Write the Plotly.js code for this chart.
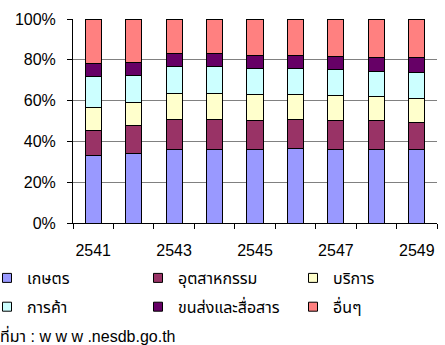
<!DOCTYPE html>
<html>
<head>
<meta charset="utf-8">
<script src="https://cdn.plot.ly/plotly-3.0.1.min.js"></script>
<style>
  html, body { margin: 0; padding: 0; background: #fff; }
  #chart { width: 445px; height: 345px; }
</style>
</head>
<body>
<div id="chart"></div>
<script>
// GDP structure by sector, share of total (%)
const years = ['2541', '2542', '2543', '2544', '2545', '2546', '2547', '2548', '2549'];
const agriculture    = [33.3, 34.1, 35.9, 35.9, 35.9, 36.7, 35.9, 35.9, 35.9];
const industry       = [11.9, 13.5, 15.0, 15.0, 14.2, 14.2, 14.2, 14.2, 13.4];
const services       = [11.2, 11.7, 12.4, 12.4, 13.0, 12.2, 12.5, 11.7, 11.8];
const trade          = [15.3, 13.2, 13.3, 13.3, 12.8, 12.8, 12.5, 12.7, 12.6];
const transport      = [6.3, 6.4, 6.3, 6.3, 6.2, 6.2, 6.7, 6.8, 7.6];
const others         = [22.0, 21.1, 17.1, 17.1, 17.9, 17.9, 18.2, 18.7, 18.7];

const seriesNames  = ['เกษตร', 'อุตสาหกรรม', 'บริการ', 'การค้า', 'ขนส่งและสื่อสาร', 'อื่นๆ'];
const seriesValues = [agriculture, industry, services, trade, transport, others];
const seriesColors = ['#9999FF', '#993366', '#FFFFCC', '#CCFFFF', '#660066', '#FF8080'];
const yTicks = [0, 20, 40, 60, 80, 100];
const yTickText = ['0%', '20%', '40%', '60%', '80%', '100%'];
const sourceNote = 'ที่มา : w w w .nesdb.go.th';

const FONT = 'Arial, "Liberation Sans", "Noto Sans Thai", Tahoma, sans-serif';
const legendIds = ['legend', 'legend2', 'legend3'];

const traces = [];
seriesValues.forEach((vals, i) => {
  traces.push({
    type: 'bar',
    x: years,
    y: vals,
    name: seriesNames[i],
    marker: { color: seriesColors[i], line: { color: '#000', width: 1 } },
    showlegend: false,
    hoverinfo: 'x+y+name'
  });
});
// Legend keys: small outlined squares laid out in three columns
seriesNames.forEach((n, i) => {
  traces.push({
    type: 'scatter',
    mode: 'markers',
    x: [null],
    y: [null],
    name: n,
    legend: legendIds[i % 3],
    legendgroup: 'g' + i,
    marker: { symbol: 'square', size: 9, color: seriesColors[i], line: { color: '#000', width: 1 } },
    showlegend: true,
    hoverinfo: 'skip'
  });
});

const plotW = 445 - 73 - 8;
const plotH = 345 - 19 - 122;

function legendColumn(leftPx) {
  return {
    orientation: 'v',
    traceorder: 'grouped',
    tracegroupgap: 5,
    x: (leftPx - 73) / plotW,
    xanchor: 'left',
    y: -38 / plotH,
    yanchor: 'top',
    font: { family: FONT, size: 16, color: '#000' },
    itemclick: false,
    itemdoubleclick: false,
    bgcolor: 'rgba(0,0,0,0)'
  };
}

const layout = {
  width: 445,
  height: 345,
  margin: { l: 73, r: 8, t: 19, b: 122, autoexpand: false },
  paper_bgcolor: '#fff',
  plot_bgcolor: '#fff',
  barmode: 'stack',
  bargap: 0.6,
  font: { family: FONT, size: 16, color: '#000' },
  xaxis: {
    type: 'category',
    range: [-0.5, 8.5],
    tickson: 'boundaries',
    ticks: 'outside',
    ticklen: 5,
    tickcolor: '#000',
    ticklabelstep: 2,
    tickangle: 0,
    ticklabelstandoff: 13,
    automargin: false,
    showline: true,
    linecolor: '#000',
    linewidth: 1,
    showgrid: false,
    zeroline: false,
    fixedrange: true
  },
  yaxis: {
    range: [0, 100],
    tickvals: yTicks,
    ticktext: yTickText,
    ticks: 'outside',
    ticklen: 5,
    tickcolor: '#000',
    ticklabelstandoff: 8,
    automargin: false,
    showline: true,
    linecolor: '#000',
    linewidth: 1,
    showgrid: true,
    gridcolor: '#808080',
    gridwidth: 1,
    zeroline: false,
    fixedrange: true
  },
  legend: legendColumn(-13),
  legend2: legendColumn(138),
  legend3: legendColumn(293),
  annotations: [{
    text: sourceNote,
    xref: 'paper', yref: 'paper',
    x: -75 / plotW, y: -112 / plotH,
    xanchor: 'left', yanchor: 'middle',
    showarrow: false,
    font: { family: FONT, size: 16, color: '#000' }
  }]
};

Plotly.newPlot('chart', traces, layout, { displayModeBar: false, staticPlot: true });
</script>
</body>
</html>
